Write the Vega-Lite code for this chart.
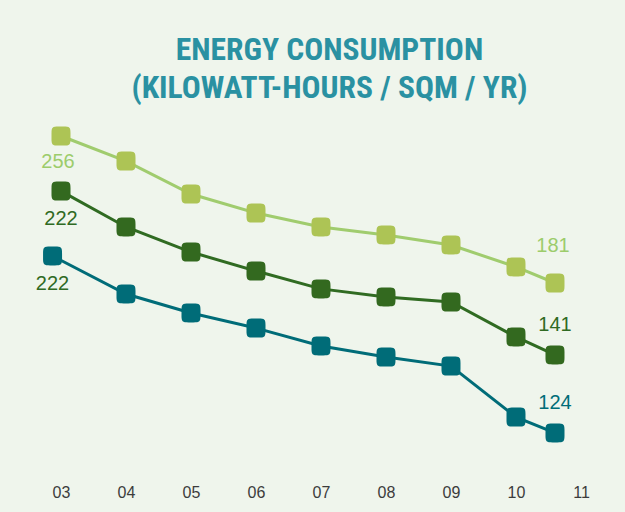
{
  "$schema": "https://vega.github.io/schema/vega-lite/v6.json",
  "autosize": "none",
  "width": 625,
  "height": 370,
  "padding": {"left": 0, "top": 110, "right": 0, "bottom": 32},
  "background": "#eff5ec",
  "config": {"view": {"stroke": null}},
  "title": {
    "text": ["ENERGY CONSUMPTION", "(KILOWATT-HOURS / SQM / YR)"],
    "font": "Roboto Condensed, Roboto, sans-serif",
    "fontSize": 31.5,
    "fontWeight": "bold",
    "color": "#2a91a2",
    "anchor": "middle",
    "dx": 17,
    "lineHeight": 38,
    "offset": 6
  },
  "data": {
    "values": [
      {"series": "Series 1", "year": 3, "value": 256, "label": "256"},
      {"series": "Series 1", "year": 4, "value": 243.2},
      {"series": "Series 1", "year": 5, "value": 226.4},
      {"series": "Series 1", "year": 6, "value": 216.7},
      {"series": "Series 1", "year": 7, "value": 209.6},
      {"series": "Series 1", "year": 8, "value": 205.5},
      {"series": "Series 1", "year": 9, "value": 200.4},
      {"series": "Series 1", "year": 10, "value": 189.2},
      {"series": "Series 1", "year": 10.6, "value": 181, "label": "181"},
      {"series": "Series 2", "year": 3, "value": 227.9, "label": "222"},
      {"series": "Series 2", "year": 4, "value": 209.6},
      {"series": "Series 2", "year": 5, "value": 196.8},
      {"series": "Series 2", "year": 6, "value": 187.1},
      {"series": "Series 2", "year": 7, "value": 178.0},
      {"series": "Series 2", "year": 8, "value": 173.9},
      {"series": "Series 2", "year": 9, "value": 171.3},
      {"series": "Series 2", "year": 10, "value": 153.5},
      {"series": "Series 2", "year": 10.6, "value": 144.3, "label": "141"},
      {"series": "Series 3", "year": 2.87, "value": 194.8, "label": "222"},
      {"series": "Series 3", "year": 4, "value": 175.4},
      {"series": "Series 3", "year": 5, "value": 165.7},
      {"series": "Series 3", "year": 6, "value": 158.0},
      {"series": "Series 3", "year": 7, "value": 148.9},
      {"series": "Series 3", "year": 8, "value": 143.2},
      {"series": "Series 3", "year": 9, "value": 138.6},
      {"series": "Series 3", "year": 10, "value": 112.6},
      {"series": "Series 3", "year": 10.6, "value": 104.5, "label": "124"}
    ]
  },
  "encoding": {
    "x": {
      "field": "year",
      "type": "quantitative",
      "scale": {"domain": [2.0615, 11.677], "nice": false, "zero": false},
      "axis": {
        "title": null,
        "values": [3, 4, 5, 6, 7, 8, 9, 10, 11],
        "labelExpr": "datum.value < 10 ? '0' + datum.value : '' + datum.value",
        "domain": false,
        "ticks": false,
        "grid": false,
        "labelFont": "Liberation Sans",
        "labelFontSize": 16,
        "labelColor": "#3c3c3c",
        "labelPadding": 4
      }
    },
    "y": {
      "field": "value",
      "type": "quantitative",
      "scale": {"domain": [80.49, 269.27], "nice": false, "zero": false},
      "axis": null
    }
  },
  "layer": [
    {
      "mark": {"type": "line", "strokeWidth": 3},
      "encoding": {
        "stroke": {
          "field": "series",
          "type": "nominal",
          "scale": {"domain": ["Series 1", "Series 2", "Series 3"], "range": ["#a0cc6e", "#306b22", "#006c78"]},
          "legend": null
        }
      }
    },
    {
      "mark": {
        "type": "point",
        "filled": true,
        "opacity": 1,
        "size": 361,
        "shape": "M -0.25 -1 L 0.25 -1 C 0.92 -1 1 -0.92 1 -0.25 L 1 0.25 C 1 0.92 0.92 1 0.25 1 L -0.25 1 C -0.92 1 -1 0.92 -1 0.25 L -1 -0.25 C -1 -0.92 -0.92 -1 -0.25 -1 Z"
      },
      "encoding": {
        "fill": {
          "field": "series",
          "type": "nominal",
          "scale": {"domain": ["Series 1", "Series 2", "Series 3"], "range": ["#adc455", "#33691f", "#006c78"]},
          "legend": null
        }
      }
    },
    {
      "transform": [{"filter": "datum.label != null && datum.year < 5 && datum.series == 'Series 1'"}],
      "mark": {"type": "text", "font": "Liberation Sans", "fontSize": 20, "baseline": "middle", "align": "center", "dy": 25.5, "dx": -3, "color": "#9ccc6b"},
      "encoding": {"text": {"field": "label"}}
    },
    {
      "transform": [{"filter": "datum.label != null && datum.year < 5 && datum.series != 'Series 1'"}],
      "mark": {"type": "text", "font": "Liberation Sans", "fontSize": 20, "baseline": "middle", "align": "center", "dy": 28, "dx": 0, "color": "#2f6a23"},
      "encoding": {"text": {"field": "label"}}
    },
    {
      "transform": [{"filter": "datum.label != null && datum.year > 5 && datum.series == 'Series 1'"}],
      "mark": {"type": "text", "font": "Liberation Sans", "fontSize": 20, "baseline": "middle", "align": "center", "dy": -37.5, "dx": -2, "color": "#9ccc6b"},
      "encoding": {"text": {"field": "label"}}
    },
    {
      "transform": [{"filter": "datum.label != null && datum.year > 5 && datum.series != 'Series 1'"}],
      "mark": {"type": "text", "font": "Liberation Sans", "fontSize": 20, "baseline": "middle", "align": "center", "dy": -29.5, "dx": 0},
      "encoding": {
        "text": {"field": "label"},
        "color": {
          "field": "series",
          "type": "nominal",
          "scale": {"domain": ["Series 2", "Series 3"], "range": ["#2f6a23", "#006d78"]},
          "legend": null
        }
      }
    }
  ]
}
